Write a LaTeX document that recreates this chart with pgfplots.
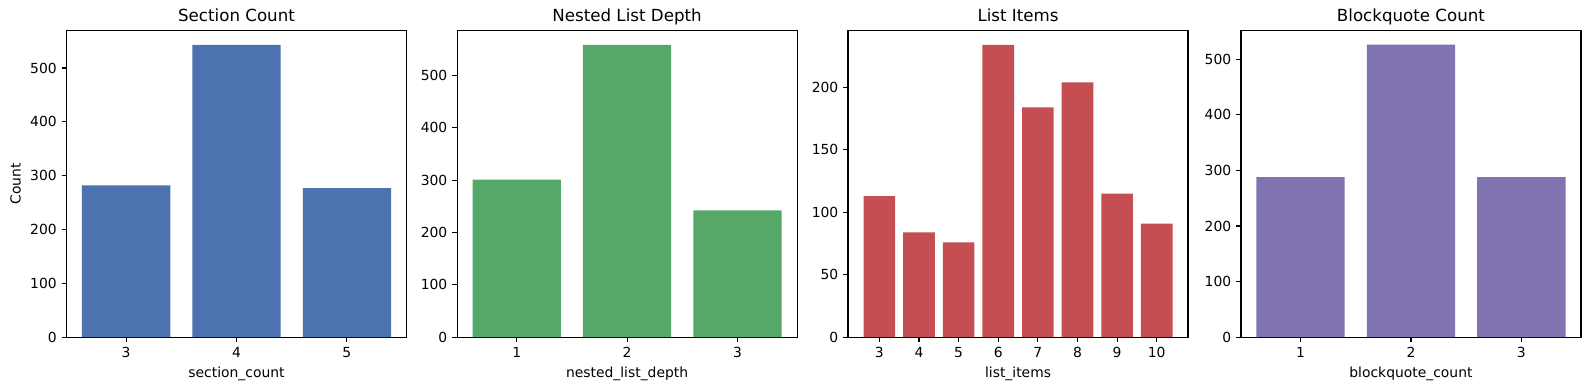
\documentclass[border=0pt]{standalone}
\usepackage{fontspec}
\setmainfont{DejaVu Sans}
\usepackage{pgfplots}
\pgfplotsset{compat=1.18}

\definecolor{cblue}{HTML}{4C72B0}
\definecolor{cgreen}{HTML}{55A868}
\definecolor{cred}{HTML}{C44E52}
\definecolor{cpurple}{HTML}{8172B2}

\pgfplotsset{
  panel/.style={
    scale only axis,
    width=244.8pt, height=221pt,
    ybar, bar width=0.8,
    ymin=0, xtick=data,
    tick align=outside, tick pos=left,
    major tick length=3.5pt,
    tick style={black, line width=0.8pt},
    axis line style={line width=0.8pt},
    % default title style already shifts up by 6pt
    title style={font=\fontsize{12}{14}\selectfont, anchor=base},
    label style={font=\fontsize{10}{12}\selectfont},
    tick label style={font=\fontsize{10}{12}\selectfont},
    /pgf/number format/assume math mode=true,
  },
}

\begin{document}
\begin{tikzpicture}
\useasboundingbox (-47.9pt,-38.2pt) rectangle (1096.2pt,242.8pt);

% section count
\begin{axis}[panel, at={(0pt,0pt)},
  title={Section Count}, xlabel={section\_count}, ylabel={Count},
  xmin=2.46, xmax=5.54, ymax=570, ytick distance=100]
\addplot[fill=cblue, draw=none] coordinates {(3,282) (4,543) (5,277)};
\end{axis}

% nested list depth
\begin{axis}[panel, at={(281.2pt,0pt)},
  title={Nested List Depth}, xlabel={nested\_list\_depth},
  xmin=0.46, xmax=3.54, ymax=586, ytick distance=100]
\addplot[fill=cgreen, draw=none] coordinates {(1,301) (2,558) (3,242)};
\end{axis}

% list items
\begin{axis}[panel, at={(562.7pt,0pt)},
  title={List Items}, xlabel={list\_items},
  xmin=2.21, xmax=10.79, ymax=245.7, ytick distance=50]
\addplot[fill=cred, draw=none] coordinates {
(3,113) (4,84) (5,76) (6,234) (7,184) (8,204) (9,115) (10,91)
};
\end{axis}

% blockquote count
\begin{axis}[panel, at={(845.6pt,0pt)},
  title={Blockquote Count}, xlabel={blockquote\_count},
  xmin=0.46, xmax=3.54, ymax=552, ytick distance=100]
\addplot[fill=cpurple, draw=none] coordinates {(1,288) (2,526) (3,288)};
\end{axis}
\end{tikzpicture}
\end{document}
